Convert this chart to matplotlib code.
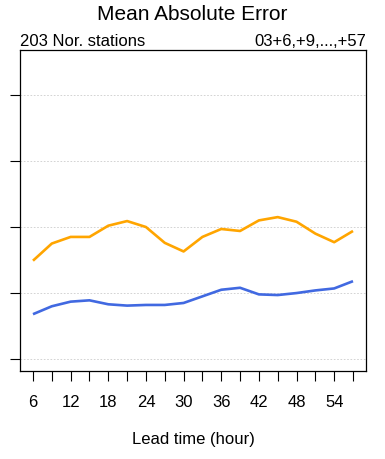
import matplotlib
matplotlib.use("Agg")
from matplotlib import pyplot as plt
import numpy as np

plt.rcParams['font.family'] = ['Liberation Sans', 'DejaVu Sans']

lead_time = [6, 9, 12, 15, 18, 21, 24, 27, 30, 33, 36, 39, 42, 45, 48, 51, 54, 57]
mae_orange = [1.49, 1.75, 1.85, 1.85, 2.02, 2.09, 2.00, 1.76, 1.63, 1.85,
              1.97, 1.94, 2.10, 2.15, 2.08, 1.90, 1.77, 1.94]
mae_blue = [0.68, 0.80, 0.87, 0.89, 0.83, 0.81, 0.82, 0.82, 0.85, 0.95,
            1.05, 1.08, 0.98, 0.97, 1.00, 1.04, 1.07, 1.18]
y_ticks = [0, 1, 2, 3, 4]
x_labels = [6, 12, 18, 24, 30, 36, 42, 48, 54]

fig = plt.figure(figsize=(3.85, 4.59), dpi=100)
ax = fig.add_axes([20 / 385, 1 - 371 / 459, 346 / 385, 321 / 459])

ax.plot(lead_time, mae_orange, color='#FFA500', lw=1.9, solid_capstyle='butt')
ax.plot(lead_time, mae_blue, color='#4169E1', lw=1.9, solid_capstyle='butt')

ax.set_xlim(3.93, 59.07)
ax.set_ylim(-0.18, 4.68)

ax.set_yticks(y_ticks)
ax.set_yticklabels([])
ax.tick_params(axis='y', length=7, width=0.8, direction='out')
ax.yaxis.grid(True, color='#cccccc', linestyle=(0, (2, 2)), lw=0.6)

ax.set_xticks(lead_time)
ax.set_xticklabels([str(t) if t in x_labels else '' for t in lead_time], fontsize=12)
ax.tick_params(axis='x', length=7, width=0.8, direction='out', pad=10)
ax.set_xlabel('Lead time (hour)', fontsize=12, labelpad=16)

for s in ax.spines.values():
    s.set_linewidth(0.9)

fig.text(0.5, 1 - 15 / 459, 'Mean Absolute Error', ha='center', va='center', fontsize=15)
fig.text(20 / 385, 1 - 46 / 459, '203 Nor. stations', ha='left', va='baseline', fontsize=12)
fig.text(366 / 385, 1 - 46 / 459, '03+6,+9,...,+57', ha='right', va='baseline', fontsize=12)

fig.savefig('out.png', dpi=100)
